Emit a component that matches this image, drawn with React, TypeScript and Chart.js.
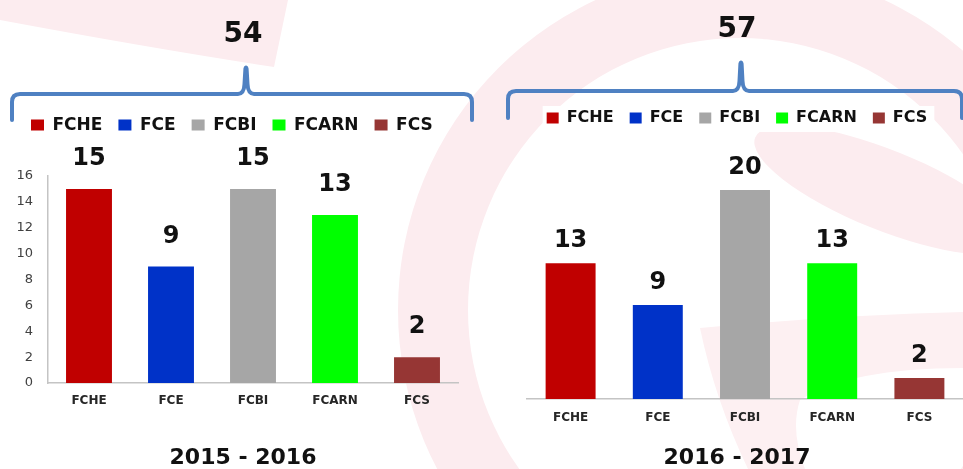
import { useEffect, useRef } from "react";
import { Chart, registerables } from "chart.js";

Chart.register(...registerables);

const categories = ["FCHE", "FCE", "FCBI", "FCARN", "FCS"];
const barColors = ["#c00000", "#0032c8", "#a6a6a6", "#00ff00", "#963634"];
const values1516 = [15, 9, 15, 13, 2];
const values1617 = [13, 9, 20, 13, 2];
const total1516 = "54";
const total1617 = "57";
const period1516 = "2015 - 2016";
const period1617 = "2016 - 2017";
const yTicks1516 = [0, 2, 4, 6, 8, 10, 12, 14, 16];

const FONT = "'DejaVu Sans', Verdana, sans-serif";
const PINK = "#fcecef";

const valueLabelPlugin = {
  id: "valueLabels",
  afterDatasetsDraw(chart: any, _args: any, opts: any) {
    const ctx = chart.ctx;
    const meta = chart.getDatasetMeta(0);
    const data = chart.data.datasets[0].data;
    ctx.save();
    ctx.font = `bold ${opts.size}px ${FONT}`;
    ctx.fillStyle = "#111";
    ctx.textAlign = "center";
    ctx.textBaseline = "middle";
    meta.data.forEach((bar: any, i: number) => {
      ctx.fillText(String(data[i]), bar.x, bar.y - opts.offset);
    });
    ctx.restore();
  },
};

const bracePlugin = {
  id: "brace",
  afterDraw(chart: any, _a: any, o: any) {
    if (!o || o.x0 === undefined) return;
    const ctx = chart.ctx;
    const { x0, x1, xc, yh, yEnd, yTop } = o;
    ctx.save();
    ctx.strokeStyle = "#4f81c2";
    ctx.lineWidth = 4;
    ctx.lineCap = "round";
    ctx.lineJoin = "round";
    ctx.beginPath();
    ctx.moveTo(x0, yEnd);
    ctx.lineTo(x0, yh + 8);
    ctx.quadraticCurveTo(x0, yh, x0 + 8, yh);
    ctx.lineTo(xc - 8, yh);
    ctx.quadraticCurveTo(xc - 2, yh, xc - 1.5, yh - 10);
    ctx.lineTo(xc - 0.6, yTop + 3);
    ctx.quadraticCurveTo(xc, yTop, xc + 0.6, yTop + 3);
    ctx.lineTo(xc + 1.5, yh - 10);
    ctx.quadraticCurveTo(xc + 2, yh, xc + 8, yh);
    ctx.lineTo(x1 - 8, yh);
    ctx.quadraticCurveTo(x1, yh, x1, yh + 8);
    ctx.lineTo(x1, yEnd);
    ctx.stroke();
    ctx.restore();
  },
};

const legendBoxPlugin = {
  id: "legendBox",
  beforeDraw(chart: any, _a: any, o: any) {
    if (!o || !o.show) return;
    const boxes = chart.legend && chart.legend.legendHitBoxes;
    if (!boxes || !boxes.length) return;
    const first = boxes[0];
    const last = boxes[boxes.length - 1];
    const ctx = chart.ctx;
    ctx.save();
    ctx.fillStyle = "#ffffff";
    const l = first.left - 4;
    const r = last.left + last.width + 7;
    const t = first.top - 4;
    const b = first.top + first.height + 6;
    ctx.fillRect(l, t, r - l, b - t);
    ctx.restore();
  },
};

function legendLabels() {
  return categories.map((c, i) => ({
    text: c,
    fillStyle: barColors[i],
    strokeStyle: barColors[i],
    lineWidth: 0,
    hidden: false,
    index: i,
    datasetIndex: 0,
    fontColor: "#111",
  }));
}

const hiddenScale = (extra: any) => ({
  display: true,
  grid: { display: false, drawTicks: false },
  border: { display: false },
  ticks: { display: false },
  ...extra,
});

function makeLeft(canvas: HTMLCanvasElement) {
  return new Chart(canvas, {
    type: "bar",
    data: {
      labels: categories,
      datasets: [
        {
          data: values1516,
          backgroundColor: barColors,
          barPercentage: 0.56,
          categoryPercentage: 1,
        },
      ],
    },
    plugins: [valueLabelPlugin, bracePlugin],
    options: {
      animation: false,
      responsive: false,
      layout: { padding: { left: 15, right: 9, top: 0, bottom: 0 } },
      scales: {
        x: {
          grid: { display: false, drawTicks: false },
          border: { display: true, color: "#c4c4c4", width: 1.5 },
          ticks: { color: "#262626", font: { family: FONT, size: 12, weight: "bold" }, padding: 11 },
          afterFit: (s: any) => {
            s.height = 64;
          },
        },
        y: {
          min: 0,
          max: 16,
          afterBuildTicks: (s: any) => {
            s.ticks = yTicks1516.map((v) => ({ value: v }));
          },
          ticks: { color: "#404040", font: { family: FONT, size: 13 }, padding: 15 },
          grid: { display: false, drawTicks: false },
          border: { display: true, color: "#c4c4c4", width: 1.5 },
          afterFit: (s: any) => {
            s.width = 33;
          },
        },
        xTop: hiddenScale({
          type: "category",
          position: "top",
          afterFit: (s: any) => {
            s.height = 32.5;
          },
        }),
        yRight: hiddenScale({
          type: "linear",
          position: "right",
          afterFit: (s: any) => {
            s.width = 13;
          },
        }),
      },
      plugins: {
        title: {
          display: true,
          text: total1516,
          color: "#111",
          font: { family: FONT, size: 28, weight: "bold", lineHeight: 1.2 },
          padding: { top: 18, bottom: 49 },
        },
        subtitle: {
          display: true,
          position: "bottom",
          text: period1516,
          color: "#111",
          font: { family: FONT, size: 22, weight: "bold", lineHeight: 1 },
          padding: { top: 0, bottom: 0 },
        },
        legend: {
          display: true,
          position: "top",
          align: "start",
          labels: {
            font: { family: FONT, size: 17, weight: "bold" },
            color: "#111",
            boxWidth: 13,
            boxHeight: 11,
            padding: 16,
            generateLabels: legendLabels,
          },
        },
        tooltip: { enabled: false },
        valueLabels: { size: 24, offset: 30 },
        brace: { x0: 12, x1: 472, xc: 246, yh: 94, yEnd: 120, yTop: 66 },
      } as any,
    },
  } as any);
}

function makeRight(canvas: HTMLCanvasElement) {
  return new Chart(canvas, {
    type: "bar",
    data: {
      labels: categories,
      datasets: [
        {
          data: values1617,
          backgroundColor: barColors,
          barPercentage: 0.573,
          categoryPercentage: 1,
        },
      ],
    },
    plugins: [legendBoxPlugin, valueLabelPlugin, bracePlugin],
    options: {
      animation: false,
      responsive: false,
      layout: { padding: { left: 31, right: 0, top: 0, bottom: 0 } },
      scales: {
        x: {
          grid: { display: false, drawTicks: false },
          border: { display: true, color: "#c4c4c4", width: 1.5 },
          ticks: { color: "#262626", font: { family: FONT, size: 12, weight: "bold" }, padding: 12 },
          afterFit: (s: any) => {
            s.height = 48;
          },
        },
        y: hiddenScale({
          min: 0,
          max: 20,
          afterFit: (s: any) => {
            s.width = 16;
          },
        }),
        xTop: hiddenScale({
          type: "category",
          position: "top",
          afterFit: (s: any) => {
            s.height = 54;
          },
        }),
      },
      plugins: {
        title: {
          display: true,
          text: total1617,
          color: "#111",
          font: { family: FONT, size: 28, weight: "bold", lineHeight: 1.2 },
          padding: { top: 13, bottom: 47.4 },
        },
        subtitle: {
          display: true,
          position: "bottom",
          text: period1617,
          color: "#111",
          font: { family: FONT, size: 22, weight: "bold", lineHeight: 1 },
          padding: { top: 0, bottom: 0 },
        },
        legend: {
          display: true,
          position: "top",
          align: "center",
          labels: {
            font: { family: FONT, size: 16, weight: "bold" },
            color: "#111",
            boxWidth: 12,
            boxHeight: 11,
            padding: 16,
            generateLabels: legendLabels,
          },
        },
        tooltip: { enabled: false },
        legendBox: { show: true },
        valueLabels: { size: 24, offset: 22 },
        brace: { x0: 28, x1: 482, xc: 261, yh: 91, yEnd: 118, yTop: 61 },
      } as any,
    },
  } as any);
}

export default function App() {
  const leftRef = useRef<HTMLCanvasElement>(null);
  const rightRef = useRef<HTMLCanvasElement>(null);

  useEffect(() => {
    const a = makeLeft(leftRef.current!);
    const b = makeRight(rightRef.current!);
    return () => {
      a.destroy();
      b.destroy();
    };
  }, []);

  return (
    <div
      style={{
        position: "absolute",
        left: 0,
        top: 0,
        width: 963,
        height: 469,
        overflow: "hidden",
        background: "#ffffff",
      }}
    >
      <svg width={963} height={469} style={{ position: "absolute", left: 0, top: 0 }}>
        <path d="M0,0 L288,0 L274,67 Q150,48 0,20 Z" fill={PINK} />
        <path
          fillRule="evenodd"
          fill={PINK}
          d="M398,310 a342,342 0 1,0 684,0 a342,342 0 1,0 -684,0 Z M468,310 a272,272 0 1,0 544,0 a272,272 0 1,0 -544,0 Z"
        />
        <ellipse cx={885} cy={190} rx={140} ry={40} transform="rotate(22 885 190)" fill={PINK} />
        <path
          d="M700,328 Q840,315 963,312 L963,368 Q850,368 800,400 Q790,430 805,469 L748,469 Q715,400 700,328 Z"
          fill="#fdf0f2"
        />
      </svg>
      <canvas
        ref={leftRef}
        width={480}
        height={469}
        style={{ position: "absolute", left: 0, top: 0, width: 480, height: 469 }}
      />
      <canvas
        ref={rightRef}
        width={483}
        height={469}
        style={{ position: "absolute", left: 480, top: 0, width: 483, height: 469 }}
      />
    </div>
  );
}
